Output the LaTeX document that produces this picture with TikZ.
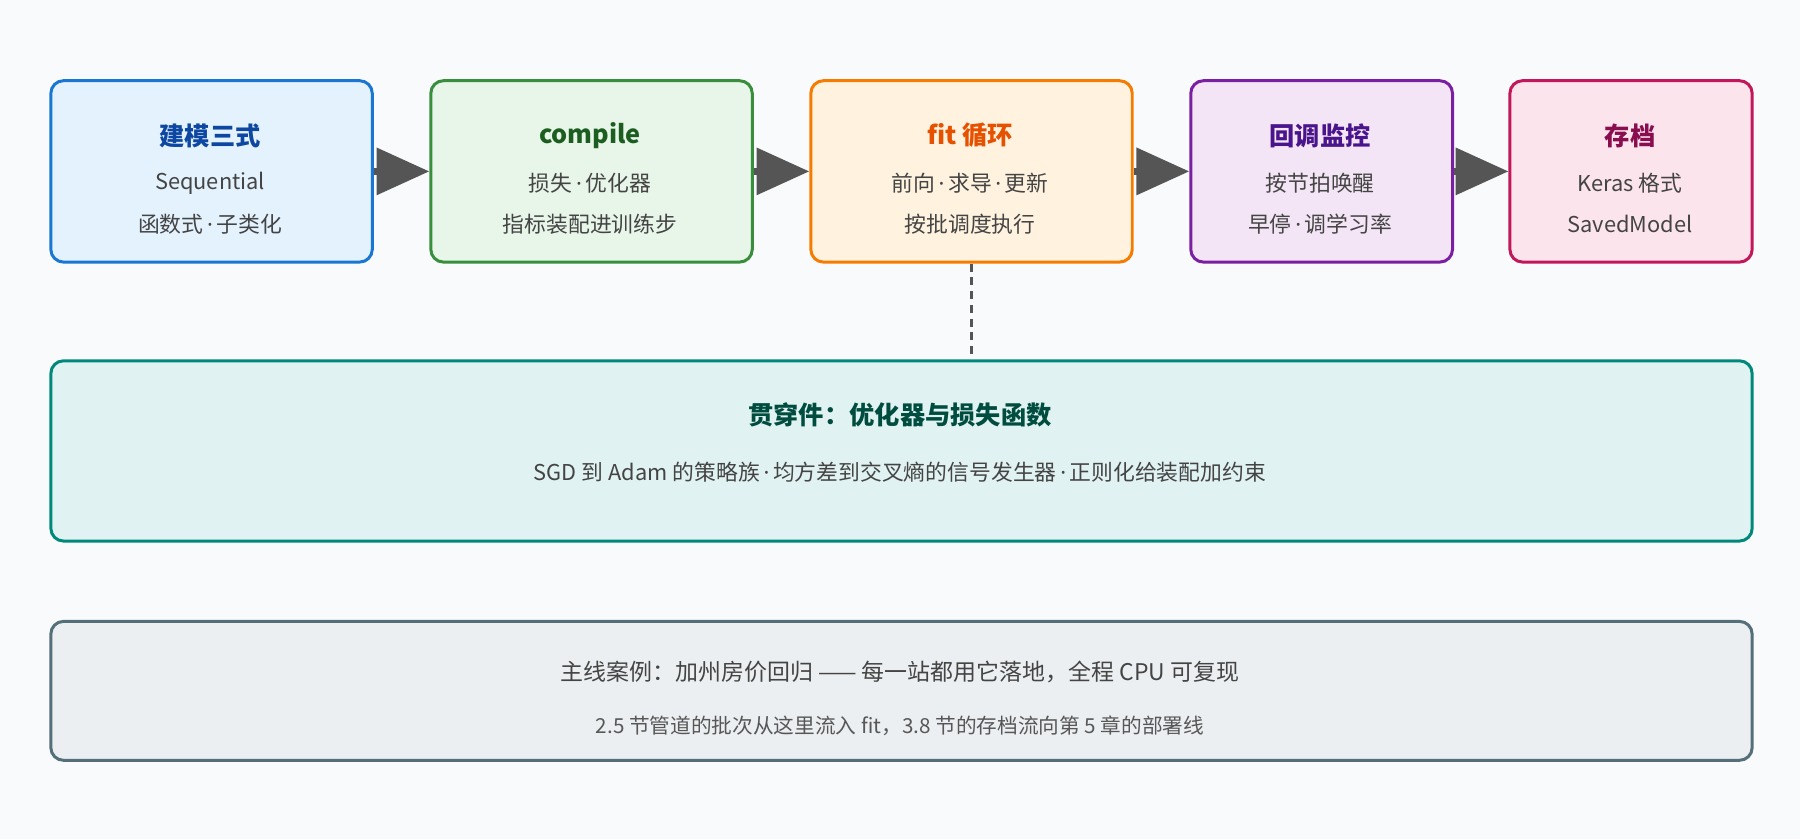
\documentclass[tikz,border=0pt]{standalone}
\usepackage{fontspec}
\setmainfont{Noto Sans CJK SC}
\newfontfamily\latinfont{Noto Sans}
\newcommand{\dt}{{\latinfont\,·\,}}
\usetikzlibrary{arrows.meta,positioning}
\definecolor{bgc}{HTML}{F8FAFC}
\definecolor{arrc}{HTML}{555555}
\definecolor{txtc}{HTML}{444444}
\definecolor{bluD}{HTML}{1976D2}\definecolor{bluF}{HTML}{E3F2FD}\definecolor{bluT}{HTML}{0D47A1}
\definecolor{grnD}{HTML}{388E3C}\definecolor{grnF}{HTML}{E8F5E9}\definecolor{grnT}{HTML}{1B5E20}
\definecolor{ornD}{HTML}{F57C00}\definecolor{ornF}{HTML}{FFF3E0}\definecolor{ornT}{HTML}{E65100}
\definecolor{vioD}{HTML}{7B1FA2}\definecolor{vioF}{HTML}{F3E5F5}\definecolor{vioT}{HTML}{4A148C}
\definecolor{pnkD}{HTML}{C2185B}\definecolor{pnkF}{HTML}{FCE4EC}\definecolor{pnkT}{HTML}{880E4F}
\definecolor{tealD}{HTML}{00897B}\definecolor{tealF}{HTML}{E0F2F1}\definecolor{tealT}{HTML}{004D40}
\definecolor{greyD}{HTML}{546E7A}\definecolor{greyF}{HTML}{ECEFF1}
\tikzset{
  stage/.style={draw=#1D,fill=#1F,line width=2.6pt,rounded corners=11pt,minimum height=158pt,anchor=north west},
  ttl/.style={font=\fontsize{22}{26}\selectfont\bfseries,text=#1T},
  sub/.style={font=\fontsize{19}{23}\selectfont,text=txtc},
  flow/.style={-{Triangle[width=40pt,length=46pt]},line width=6pt,arrc,shorten >=0pt}
}
\begin{document}
\begin{tikzpicture}[x=1pt,y=-1pt]
\useasboundingbox[fill=bgc] (0,0) rectangle (1568,731);
% stages
\node[stage=blu,minimum width=280pt] (model) at (43,69) {};
\node[stage=grn,minimum width=280pt] (compile) at (374,69) {};
\node[stage=orn,minimum width=280pt] (fit) at (705,69) {};
\node[stage=vio,minimum width=228pt] (callback) at (1036,69) {};
\node[stage=pnk,minimum width=211pt] (save) at (1314,69) {};
% texts
\node[ttl=blu] at (183,118) {建模三式};
\node[sub] at (183,160) {Sequential};
\node[sub] at (183,195) {函数式\dt 子类化};
\node[ttl=grn] at (514,118) {compile};
\node[sub] at (514,160) {损失\dt 优化器};
\node[sub] at (514,195) {指标装配进训练步};
\node[ttl=orn] at (845,118) {fit 循环};
\node[sub] at (845,160) {前向\dt 求导\dt 更新};
\node[sub] at (845,195) {按批调度执行};
\node[ttl=vio] at (1150,118) {回调监控};
\node[sub] at (1150,160) {按节拍唤醒};
\node[sub] at (1150,195) {早停\dt 调学习率};
\node[ttl=pnk] at (1420,118) {存档};
\node[sub] at (1420,160) {Keras 格式};
\node[sub] at (1420,195) {SavedModel};
% arrows
\draw[flow] (model.east) -- (compile.west);
\draw[flow] (compile.east) -- (fit.west);
\draw[flow] (fit.east) -- (callback.west);
\draw[flow] (callback.east) -- (save.west);
% cross-cutting
\node[stage=teal,minimum width=1482pt,minimum height=157pt] (cross) at (43,313) {};
\draw[arrc,line width=3pt,dash pattern=on 7pt off 5pt] (fit.south) -- (cross.north -| fit.south);
\node[ttl=teal] at (784,361) {贯穿件：优化器与损失函数};
\node[sub] at (784,411) {SGD 到 Adam 的策略族\dt 均方差到交叉熵的信号发生器\dt 正则化给装配加约束};
% case
\node[stage=grey,minimum width=1482pt,minimum height=121pt] (case) at (43,540) {};
\node[sub,font=\fontsize{20}{24}\selectfont] at (784,585) {主线案例：加州房价回归 —— 每一站都用它落地，全程 CPU 可复现};
\node[sub,font=\fontsize{18}{22}\selectfont,text=txtc!90!white] at (784,632) {2.5 节管道的批次从这里流入 fit，3.8 节的存档流向第 5 章的部署线};
\end{tikzpicture}
\end{document}
